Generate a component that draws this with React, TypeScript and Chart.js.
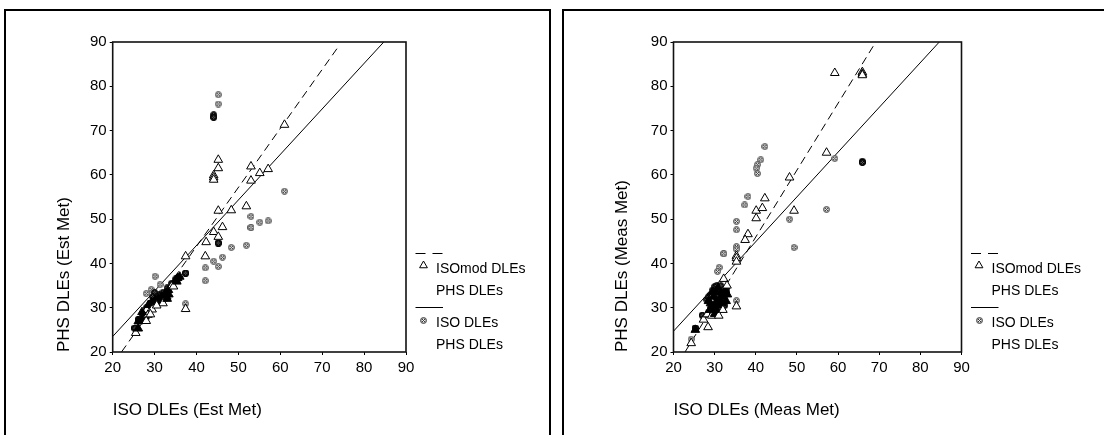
import { useEffect, useRef } from "react";
import { Chart, registerables } from "chart.js";

Chart.register(...registerables);

type Pt = [number, number];

// Axis range and ticks shared by both panels
const axisMin = 20;
const axisMax = 90;
const tickValues = [20, 30, 40, 50, 60, 70, 80, 90];

// Estimated metabolic rate: ISOmod vs PHS
const isoModEst: Pt[] = [
  [61.0, 71.3], [45.2, 63.4], [45.2, 61.5], [44.1, 59.9], [44.1, 59.4], [44.1, 58.9],
  [53.0, 61.9], [53.0, 58.7], [55.1, 60.4], [57.1, 61.3], [51.9, 52.9], [45.2, 51.9],
  [48.3, 52.0], [44.1, 47.1], [46.2, 48.2], [45.2, 46.0], [42.3, 44.8], [42.1, 41.6],
  [37.4, 41.6], [37.4, 29.7], [25.5, 24.3],
  [26.1, 25.3], [26.1, 26.9], [26.9, 27.2], [27.6, 27.3], [27.7, 28.0], [28.1, 29.5],
  [28.4, 28.4], [28.5, 30.6], [29.3, 31.3], [29.4, 29.6], [30.1, 31.7], [30.9, 32.1],
  [31.7, 32.5], [32.1, 32.1], [32.5, 33.2], [32.9, 32.5], [33.3, 34.0], [33.4, 33.0],
  [34.2, 35.1], [34.5, 34.8], [35.1, 36.3], [35.3, 35.9], [35.5, 36.7], [36.0, 37.0],
  [28.0, 27.0], [29.0, 28.5], [31.5, 31.5], [32.0, 31.0], [33.0, 32.0], [27.0, 29.0],
  [30.5, 30.5],
];

// Estimated metabolic rate: ISO vs PHS
const isoEst: Pt[] = [
  [45.2, 78.1], [45.2, 76.0], [44.1, 73.6], [44.1, 73.0], [44.1, 73.0], [61.0, 56.3],
  [53.0, 50.6], [55.1, 49.3], [57.1, 49.6], [53.0, 48.1], [53.0, 48.1], [48.3, 43.6],
  [51.9, 44.1], [46.2, 41.4], [44.1, 40.5], [42.1, 39.0], [45.2, 39.3], [42.1, 36.1],
  [45.2, 44.6], [45.2, 44.6], [45.2, 44.6], [37.4, 37.8], [37.4, 37.8], [37.4, 37.8],
  [37.4, 30.9], [30.1, 37.1], [31.3, 35.2], [29.2, 34.1], [28.0, 33.2],
  [26.1, 27.3], [26.1, 27.3], [26.1, 27.3], [25.3, 25.4], [25.3, 25.4], [25.3, 25.4],
  [29.0, 31.0], [28.0, 30.0], [30.0, 32.0], [31.0, 33.0], [32.0, 33.5], [33.0, 34.5],
  [34.0, 35.5], [35.0, 36.5], [27.0, 28.5], [30.0, 33.5], [29.5, 32.5],
];

// Fitted lines, estimated metabolic rate
const fitIsoModEst: Pt[] = [[22.1, 20], [74.2, 89.4]];
const fitIsoEst: Pt[] = [[20, 23.5], [84.7, 90]];

// Measured metabolic rate: ISOmod vs PHS
const isoModMeas: Pt[] = [
  [59.2, 83.0], [65.9, 83.2], [65.9, 82.8], [65.9, 82.5], [57.2, 65.0], [48.2, 59.4],
  [42.2, 54.7], [40.1, 51.9], [41.6, 52.5], [40.1, 50.2], [49.3, 51.9], [38.1, 46.6],
  [37.4, 45.3], [35.3, 41.7], [35.3, 41.2], [35.3, 40.4], [35.3, 30.3], [32.2, 36.5],
  [28.4, 25.6], [25.3, 25.0], [24.3, 22.0], [27.3, 27.3],
  [28.2, 28.5], [28.8, 29.5], [29.0, 31.0], [29.3, 28.2], [29.6, 30.2], [29.8, 32.5],
  [30.0, 28.6], [30.2, 31.0], [30.4, 33.5], [30.6, 29.5], [30.8, 34.5], [31.0, 30.5],
  [31.2, 32.0], [31.5, 33.5], [31.8, 31.0], [32.0, 29.5], [32.2, 32.5], [32.5, 34.0],
  [32.8, 31.5], [33.0, 35.0], [33.1, 33.0], [29.5, 33.5], [28.5, 31.5], [31.0, 28.2],
  [30.0, 29.5],
];

// Measured metabolic rate: ISO vs PHS
const isoMeas: Pt[] = [
  [42.2, 66.4], [41.2, 63.4], [40.4, 62.3], [40.1, 61.5], [40.4, 60.3], [38.1, 55.1],
  [37.3, 53.2], [35.3, 49.5], [35.3, 47.6], [35.3, 43.8], [35.3, 43.2], [32.2, 42.2],
  [32.2, 42.2], [31.1, 39.1], [30.7, 38.2], [59.2, 63.7], [65.9, 63.1], [65.9, 62.8],
  [65.9, 62.8], [57.2, 52.2], [48.2, 50.0], [49.3, 43.6], [35.3, 31.6], [24.3, 22.9],
  [25.3, 25.4], [25.3, 25.4], [25.3, 25.4], [27.0, 28.3], [27.0, 28.3],
  [28.1, 31.8], [28.5, 32.5], [29.0, 33.0], [29.5, 34.0], [30.0, 34.8], [30.5, 35.0],
  [29.0, 30.0], [30.0, 30.5], [31.0, 31.5], [32.0, 32.5], [33.0, 34.5], [31.5, 35.0],
  [28.5, 29.0], [30.5, 32.0], [32.5, 30.5], [33.0, 33.5],
];

// Fitted lines, measured metabolic rate
const fitIsoModMeas: Pt[] = [[22.8, 20], [68.9, 89.6]];
const fitIsoMeas: Pt[] = [[20, 24.7], [84.6, 90]];

// Legend and axis text
const legendRows = ["ISOmod DLEs", "PHS DLEs", "ISO DLEs", "PHS DLEs"];
const xTitleEst = "ISO DLEs (Est Met)";
const yTitleEst = "PHS DLEs (Est Met)";
const xTitleMeas = "ISO DLEs (Meas Met)";
const yTitleMeas = "PHS DLEs (Meas Met)";

const FONT = "'Liberation Sans', Arial, Helvetica, sans-serif";

// Small speckled disc used as the ISO marker
function speckleDot(fill: string, ring: string, dark: string, light: string): HTMLCanvasElement {
  const c = document.createElement("canvas");
  c.width = 7;
  c.height = 7;
  const g = c.getContext("2d")!;
  g.beginPath();
  g.arc(3.5, 3.5, 3, 0, Math.PI * 2);
  g.fillStyle = fill;
  g.fill();
  g.lineWidth = 0.9;
  g.strokeStyle = ring;
  g.stroke();
  g.fillStyle = dark;
  [[2, 2], [4, 2], [3, 3], [2, 4], [4, 4]].forEach(([x, y]) => g.fillRect(x, y, 1, 1));
  g.fillStyle = light;
  [[3, 2], [2, 3], [4, 3], [3, 4]].forEach(([x, y]) => g.fillRect(x, y, 1, 1));
  return c;
}

const lightDot = speckleDot("#a8a8a8", "#4a4a4a", "#3a3a3a", "#f2f2f2");
const darkDot = speckleDot("#1a1a1a", "#000", "#000", "#6a6a6a");

const toXY = (pts: Pt[]) => pts.map(([x, y]) => ({ x, y }));

// Number of other observations sitting within one unit of a point
function crowd(all: Pt[], p: { x: number; y: number }) {
  let n = 0;
  for (const q of all) if (Math.abs(q[0] - p.x) <= 1 && Math.abs(q[1] - p.y) <= 1) n++;
  return n - 1;
}

type PanelSpec = {
  left: number;
  plotLeft: number;
  plotRight: number;
  yTitlePad: number;
  xTitle: string;
  yTitle: string;
  mod: Pt[];
  iso: Pt[];
  fitMod: Pt[];
  fitIso: Pt[];
};

const CW = 552;
const CH = 435;
const PLOT_TOP = 42;
const PLOT_BOTTOM = 352;

function buildChart(canvas: HTMLCanvasElement, s: PanelSpec) {
  const all = [...s.mod, ...s.iso];

  const frame = {
    id: "plotFrame",
    afterDatasetsDraw(chart: Chart) {
      const { ctx, chartArea: a } = chart;
      ctx.save();
      ctx.strokeStyle = "#111";
      ctx.lineWidth = 1.6;
      ctx.strokeRect(a.left, a.top, a.right - a.left, a.bottom - a.top);
      ctx.restore();
    },
  };

  const sideLegend = {
    id: "sideLegend",
    afterDraw(chart: Chart) {
      const { ctx, chartArea: a } = chart;
      const x0 = a.right + 9.5;
      const x1 = a.right + 37;
      const tx = a.right + 30;
      const rowY = [227.3, 249, 281.3, 303];
      ctx.save();
      ctx.strokeStyle = "#000";
      ctx.lineWidth = 1;
      ctx.setLineDash([10, 7]);
      ctx.beginPath();
      ctx.moveTo(x0, a.top + 211.5);
      ctx.lineTo(x1, a.top + 211.5);
      ctx.stroke();
      ctx.setLineDash([]);
      ctx.beginPath();
      ctx.moveTo(x0, a.top + 265.5);
      ctx.lineTo(x1, a.top + 265.5);
      ctx.stroke();
      const r = 4.5;
      const cx = a.right + 17.5;
      const cy = a.top + 223.5;
      ctx.beginPath();
      ctx.moveTo(cx, cy - r);
      ctx.lineTo(cx + 0.866 * r, cy + 0.5 * r);
      ctx.lineTo(cx - 0.866 * r, cy + 0.5 * r);
      ctx.closePath();
      ctx.fillStyle = "#fff";
      ctx.fill();
      ctx.stroke();
      ctx.drawImage(lightDot, Math.round(cx - 3.5), Math.round(a.top + 278.5 - 3.5));
      ctx.font = `14px ${FONT}`;
      ctx.fillStyle = "#000";
      ctx.textBaseline = "middle";
      ctx.textAlign = "left";
      legendRows.forEach((t, i) => ctx.fillText(t, tx, a.top + rowY[i]));
      ctx.restore();
    },
  };

  const tickFont = { family: FONT, size: 15 };
  const titleFont = { family: FONT, size: 17 };

  return new Chart(canvas, {
    type: "scatter",
    data: {
      datasets: [
        {
          label: "ISOmod DLEs",
          data: toXY(s.mod),
          pointStyle: "triangle",
          pointRadius: 5,
          borderColor: "#000",
          borderWidth: 1,
          pointBackgroundColor: (ctx: any) =>
            ctx.raw && crowd(all, ctx.raw) >= 3 ? "#000" : "#fff",
        },
        {
          label: "ISO DLEs",
          data: toXY(s.iso),
          pointStyle: (ctx: any) =>
            ctx.raw && crowd(all, ctx.raw) >= 2 ? darkDot : lightDot,
          pointRadius: 3.5,
        },
        {
          label: "ISOmod fit",
          data: toXY(s.fitMod),
          showLine: true,
          pointRadius: 0,
          borderColor: "#000",
          borderWidth: 1,
          borderDash: [8, 5],
        },
        {
          label: "ISO fit",
          data: toXY(s.fitIso),
          showLine: true,
          pointRadius: 0,
          borderColor: "#000",
          borderWidth: 1,
        },
      ],
    } as any,
    options: {
      responsive: false,
      animation: false,
      events: [],
      devicePixelRatio: 1,
      layout: {
        padding: { left: 0, top: PLOT_TOP, right: CW - s.plotRight, bottom: 0 },
      },
      plugins: { legend: { display: false }, tooltip: { enabled: false } },
      scales: {
        x: {
          type: "linear",
          min: axisMin,
          max: axisMax,
          afterBuildTicks: (sc: any) => {
            sc.ticks = tickValues.map((v) => ({ value: v }));
          },
          afterFit: (sc: any) => {
            sc.height = CH - PLOT_BOTTOM;
          },
          ticks: { font: tickFont, color: "#000", padding: 4, maxRotation: 0, autoSkip: false },
          grid: { drawOnChartArea: false, drawTicks: true, tickLength: 3, color: "#000" },
          border: { display: false },
          title: {
            display: true,
            text: s.xTitle,
            align: "start",
            font: titleFont,
            color: "#000",
            padding: { top: 0, bottom: 14.8 },
          },
        },
        y: {
          type: "linear",
          min: axisMin,
          max: axisMax,
          afterBuildTicks: (sc: any) => {
            sc.ticks = tickValues.map((v) => ({ value: v }));
          },
          afterFit: (sc: any) => {
            sc.width = s.plotLeft;
          },
          ticks: { font: tickFont, color: "#000", padding: 3, autoSkip: false },
          grid: { drawOnChartArea: false, drawTicks: true, tickLength: 3, color: "#000" },
          border: { display: false },
          title: {
            display: true,
            text: s.yTitle,
            align: "start",
            font: titleFont,
            color: "#000",
            padding: { top: s.yTitlePad, bottom: 0 },
          },
        },
      },
    } as any,
    plugins: [frame, sideLegend],
  });
}

const panels: PanelSpec[] = [
  {
    left: 0,
    plotLeft: 112.7,
    plotRight: 406,
    yTitlePad: 54,
    xTitle: xTitleEst,
    yTitle: yTitleEst,
    mod: isoModEst,
    iso: isoEst,
    fitMod: fitIsoModEst,
    fitIso: fitIsoEst,
  },
  {
    left: 552,
    plotLeft: 121.5,
    plotRight: 409.5,
    yTitlePad: 60,
    xTitle: xTitleMeas,
    yTitle: yTitleMeas,
    mod: isoModMeas,
    iso: isoMeas,
    fitMod: fitIsoModMeas,
    fitIso: fitIsoMeas,
  },
];

function Panel({ spec }: { spec: PanelSpec }) {
  const ref = useRef<HTMLCanvasElement>(null);
  useEffect(() => {
    if (!ref.current) return;
    const chart = buildChart(ref.current, spec);
    return () => chart.destroy();
  }, [spec]);
  return (
    <canvas
      ref={ref}
      width={CW}
      height={CH}
      style={{ position: "absolute", left: spec.left, top: 0, width: CW, height: CH }}
    />
  );
}

export default function App() {
  return (
    <div
      style={{
        position: "absolute",
        left: 0,
        top: 0,
        width: 1104,
        height: 435,
        overflow: "hidden",
        background: "#fff",
      }}
    >
      <div
        style={{
          position: "absolute",
          left: 4,
          top: 9,
          width: 543,
          height: 440,
          border: "2px solid #000",
        }}
      />
      <div
        style={{
          position: "absolute",
          left: 562,
          top: 9,
          width: 560,
          height: 440,
          border: "2px solid #000",
        }}
      />
      {panels.map((p) => (
        <Panel key={p.left} spec={p} />
      ))}
    </div>
  );
}
